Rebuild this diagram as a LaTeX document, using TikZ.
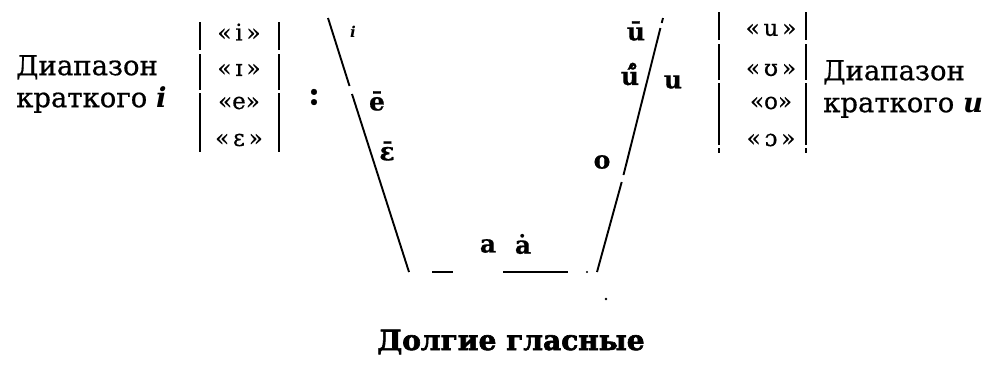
\documentclass[tikz,border=0pt]{standalone}
\usepackage{fontspec}
\setmainfont{DejaVu Serif}[UprightFeatures={FakeBold=0.6},BoldFeatures={FakeBold=0.6}]
\newfontfamily\titlefont{DejaVu Serif}[BoldFeatures={FakeBold=2.2}]
\usepackage{tikz}
\usetikzlibrary{positioning}

\begin{document}
\begin{tikzpicture}[x=1pt,y=-1pt,
rng/.style={font=\fontsize{27.5}{32}\selectfont,align=left,anchor=west,inner sep=0pt},
snd/.style={font=\fontsize{23}{24}\selectfont,inner sep=0pt},
vow/.style={font=\bfseries\fontsize{25}{25}\selectfont,inner sep=0pt},
brk/.style={line width=2.4pt,dash pattern=on 28pt off 4pt on 36pt off 3pt on 62pt off 3pt},
rim/.style={line width=1.9pt}]
\useasboundingbox(0,0)rectangle(1006,365);
\node[rng](rngl)at(16,84){Диапазон\\краткого \textbf{\textit{i}}};
\draw[brk](200,22)--(200,152);
\draw[brk](279,22)--(279,152);
\node[snd](sndi)at(239,32){«\,i\,»};
\node[snd](sndI)at(239,70){«\,ɪ\,»};
\node[snd](snde)at(239,103){«e»};
\node[snd](sndE)at(239,140){«\,ε\,»};
\node[font=\bfseries\fontsize{32}{32}\selectfont](colon)at(314,97){:};
\draw[rim](328,18)--(349.5,86)(352,94)--(409,272);
\node[font=\bfseries\itshape\fontsize{15}{15}\selectfont](vi)at(353,32){i};
\node[vow](ve)at(377,101){ē};
\node[vow](vE)at(387,151){ε̄};
\draw[rim](663,18)--(661.7,23)(660.4,28)--(623.5,175)(621.7,182)--(597,272);
\node[vow](vu)at(636,31){ū};
\node[vow](vU)at(630,74){ú^^^^030a};
\node[vow](vuu)at(673,82){u};
\node[vow](vo)at(602,162){o};
\node[vow](va)at(488,246){a};
\node[vow](vA)at(523,244){ȧ};
\draw[rim](432,272)--(453,272)(503,272)--(568,272);
\fill(587,272)circle(1.2pt)(606,299)circle(1.4pt);
\draw[brk](719,12)--(719,153);
\draw[brk](806,12)--(806,153);
\node[snd](sndu)at(771,30){«\,u\,»};
\node[snd](sndU)at(771,70){«\,ʊ\,»};
\node[snd](sndo)at(771,103){«o»};
\node[snd](sndO)at(771,140){«\,ɔ\,»};
\node[rng](rngr)at(823,89){Диапазон\\краткого \textbf{\textit{u}}};
\node[font=\titlefont\bfseries\fontsize{28}{28}\selectfont](title)at(511,342){Долгие гласные};
\end{tikzpicture}
\end{document}
